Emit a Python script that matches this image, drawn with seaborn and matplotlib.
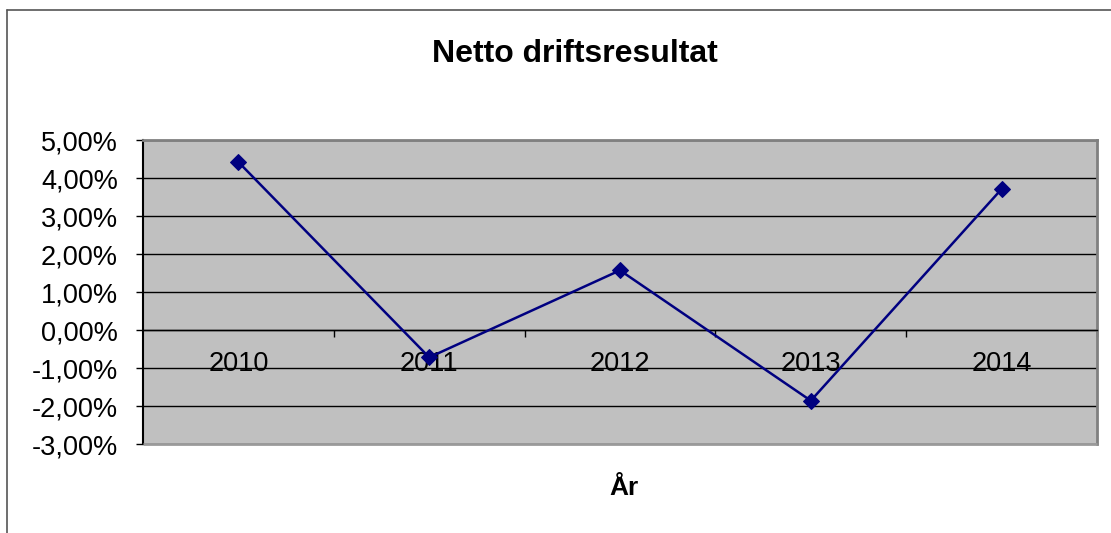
import matplotlib
matplotlib.use("Agg")
import matplotlib.pyplot as plt
from matplotlib.ticker import FuncFormatter, FixedLocator
from matplotlib.patches import Rectangle
from matplotlib.lines import Line2D
import seaborn as sns
import pandas as pd

years = ["2010", "2011", "2012", "2013", "2014"]
values = [4.42, -0.72, 1.57, -1.86, 3.71]
title = "Netto driftsresultat"
xlabel = "År"
yticks = [-3, -2, -1, 0, 1, 2, 3, 4, 5]

sns.set_theme(style="white")
plt.rcParams["font.family"] = ["Liberation Sans", "DejaVu Sans"]

W, H = 1111, 533
fig = plt.figure(figsize=(W / 100, H / 100), dpi=100)
fig.patch.set_facecolor("white")

ax = fig.add_axes([143 / W, 1 - 444 / H, 954 / W, 304 / H])
ax.set_facecolor("#C0C0C0")

df = pd.DataFrame({"year": years, "value": values})
sns.lineplot(data=df, x="year", y="value", ax=ax, color="#000080",
             linewidth=1.8, marker="D", markersize=8.5,
             markeredgecolor="#000080", markerfacecolor="#000080", zorder=5)

ax.set_xlim(-0.5, len(years) - 0.5)
ax.set_ylim(min(yticks), max(yticks))
ax.set_yticks(yticks)
ax.yaxis.set_major_formatter(FuncFormatter(lambda v, p: f"{v:.2f}%".replace(".", ",")))
ax.grid(axis="y", color="black", linewidth=1.0)
ax.grid(axis="x", visible=False)

# x axis at zero
ax.spines["bottom"].set_position(("data", 0))
ax.spines["bottom"].set_color("black")
ax.spines["bottom"].set_linewidth(1.0)
ax.set_xticks(range(len(years)))
ax.set_xticklabels(years)
ax.xaxis.set_minor_locator(FixedLocator([i + 0.5 for i in range(len(years))]))
ax.tick_params(axis="x", which="major", length=0, pad=15, labelsize=19.5, labelcolor="black")
ax.tick_params(axis="x", which="minor", length=5, width=1.0, direction="out",
               color="black", bottom=True)
ax.tick_params(axis="y", length=5, width=1.0, direction="out", color="black",
               left=True, pad=13, labelsize=19.5, labelcolor="black")

for s in ["top", "right"]:
    ax.spines[s].set_color("#808080")
    ax.spines[s].set_linewidth(2.0)
ax.spines["left"].set_color("black")
ax.spines["left"].set_linewidth(1.5)
ax.add_patch(Rectangle((0, 0), 1, 0, transform=ax.transAxes, fill=False,
                       edgecolor="#9a9a9a", linewidth=2.0, clip_on=False, zorder=3))

ax.set_xlabel("")
ax.set_ylabel("")

fig.text(575 / W, 1 - 62 / H, title, ha="center", va="baseline",
         fontsize=23, fontweight="bold", color="black")
fig.text(624 / W, 1 - 495 / H, xlabel, ha="center", va="baseline",
         fontsize=19, fontweight="bold", color="black")

# outer chart frame
fig.add_artist(Line2D([7 / W, 7 / W], [0, 1 - 10 / H], transform=fig.transFigure,
                      color="#555555", linewidth=1.2))
fig.add_artist(Line2D([7 / W, 1], [1 - 10 / H, 1 - 10 / H], transform=fig.transFigure,
                      color="#555555", linewidth=1.2))

fig.savefig("out.png", dpi=100)
